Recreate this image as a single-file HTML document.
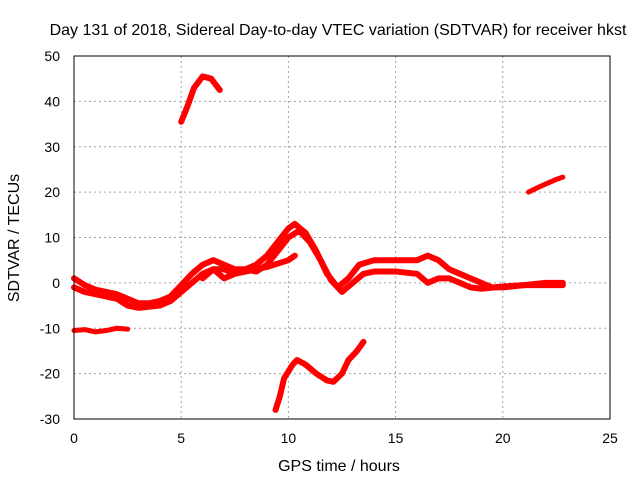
<!DOCTYPE html>
<html><head><meta charset="utf-8"><style>
body{margin:0;background:#fff}
svg text{font-family:"Liberation Sans",sans-serif;font-size:14px;fill:#000}
svg text.big{font-size:16px}
</style></head><body>
<svg id="chart" width="640" height="480" xmlns="http://www.w3.org/2000/svg">
<rect width="640" height="480" fill="#fff"/>
<g id="grid"></g>
<g id="series"></g>
<rect x="74" y="56" width="536" height="363" fill="none" stroke="#000" stroke-width="1"/>
<g id="ticks"></g>
<text class="big" x="338" y="35" text-anchor="middle">Day 131 of 2018, Sidereal Day-to-day VTEC variation (SDTVAR) for receiver hkst</text>
<text class="big" x="339" y="471" text-anchor="middle">GPS time / hours</text>
<text class="big" x="0" y="0" text-anchor="middle" transform="translate(19,238) rotate(-90)">SDTVAR / TECUs</text>
</svg>
<script>
const xTicks=[0,5,10,15,20,25];
const yTicks=[-30,-20,-10,0,10,20,30,40,50];
const trace1X=[0,0.5,1,1.5,2,2.5,3,3.5,4,4.5,5,5.5,6,6.5,7,7.5,8,8.5,9,9.5,10,10.3,10.8,11.3,11.8,12.3,12.8,13.3,14,15,16,16.5,17,17.5,18,18.5,19,19.5,20,21,22,22.8];
const trace1Y=[1,-0.5,-1.5,-2,-2.5,-3.5,-4.5,-4.5,-4,-3,-0.5,2,4,5,4,3,3,4,6,9,12,13,11,7,2,-1,1,4,5,5,5,6,5,3,2,1,0,-1,-1,-0.5,0,0];
const trace2X=[0,0.5,1,2,2.5,3,4,4.5,5,5.5,6,6.5,7,7.5,8,9,10,10.3];
const trace2Y=[-1,-2,-2.5,-3.5,-5,-5.5,-5,-4,-2,0,2,3,1,2,2.5,3.5,5,6];
const trace3X=[6,6.5,7,7.5,8,8.5,9,9.5,10,10.5,11,11.5,12,12.5,13,13.5,14,15,16,16.5,17,17.5,18,18.5,19,20,21,22,22.8];
const trace3Y=[1,3,3,2,3,2.5,4,7,10,11.5,9,5,0.5,-2,0,2,2.5,2.5,2,0,1,1,0,-1,-1.3,-0.8,-0.5,-0.5,-0.5];
const segAX=[0,0.5,1,1.5,2,2.5];
const segAY=[-10.5,-10.3,-10.8,-10.5,-10,-10.2];
const segBX=[5,5.3,5.6,6,6.4,6.8];
const segBY=[35.5,39,43,45.5,45,42.5];
const segCX=[21.2,21.5,22,22.5,22.8];
const segCY=[20,20.7,21.8,22.8,23.3];
const segDX=[9.4,9.6,9.8,10.2,10.4,10.8,11.3,11.8,12.1,12.5,12.8,13.2,13.5];
const segDY=[-28,-25,-21,-18,-17,-18,-20,-21.5,-21.8,-20,-17,-15,-13];
const NS="http://www.w3.org/2000/svg";
const sx=v=>74+v*(536/25);
const sy=v=>419-(v+30)*(363/80);
function mk(t,p,a){const e=document.createElementNS(NS,t);for(const k in a)e.setAttribute(k,a[k]);p.appendChild(e);return e;}
const grid=document.getElementById('grid'),ticks=document.getElementById('ticks'),ser=document.getElementById('series');
xTicks.forEach(v=>{
 if(v>0&&v<25){const l=mk('line',grid,{x1:sx(v),x2:sx(v),y1:56,y2:419,stroke:'#a0a0a0','stroke-dasharray':'2,3'});
 
 }
 const t=mk('text',ticks,{x:sx(v),y:443,'text-anchor':'middle'});t.textContent=v;
 
 
});
yTicks.forEach(v=>{
 if(v>-30&&v<50){const l=mk('line',grid,{x1:74,x2:610,y1:sy(v),y2:sy(v),stroke:'#a0a0a0','stroke-dasharray':'2,3'});
 
 }
 const t=mk('text',ticks,{x:60,y:sy(v)+5,'text-anchor':'end'});t.textContent=v;
 
 
});
function draw(X,Y,name,w){
 const pts=X.map((x,i)=>sx(x)+','+sy(Y[i])).join(' ');
 const p=mk('polyline',ser,{points:pts,fill:'none',stroke:'#ff0000','stroke-width':w,'stroke-linejoin':'round','stroke-linecap':'round'});
 
 
}
draw(trace1X,trace1Y,'sdtvar-trace-1',6);
draw(trace2X,trace2Y,'sdtvar-trace-2',6);
draw(trace3X,trace3Y,'sdtvar-trace-3',6);
draw(segAX,segAY,'sdtvar-segment-minus10',5);
draw(segBX,segBY,'sdtvar-segment-40',6);
draw(segCX,segCY,'sdtvar-segment-20',5);
draw(segDX,segDY,'sdtvar-segment-minus20',6);
</script>
</body></html>
